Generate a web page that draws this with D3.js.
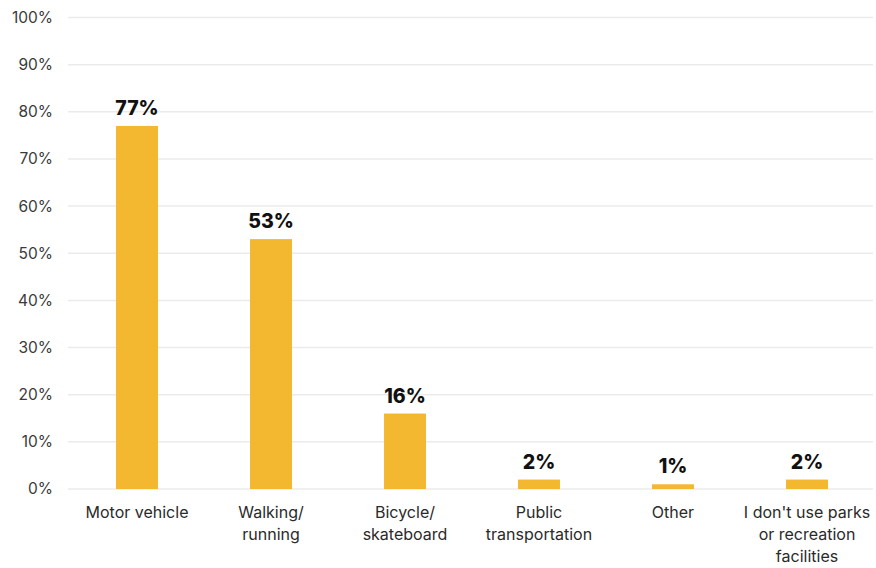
<!DOCTYPE html>
<html>
<head>
<meta charset="utf-8">
<script src="https://cdn.jsdelivr.net/npm/d3@7"></script>
<style>
  html, body { margin: 0; padding: 0; background: #fff; }
  svg { display: block; font-family: Inter, "Open Sans", sans-serif; }
</style>
</head>
<body>
<svg id="chart" width="876" height="568"></svg>
<script>
// Transport modes used to reach parks and recreation facilities
const categories = [
  ["Motor vehicle"],
  ["Walking/", "running"],
  ["Bicycle/", "skateboard"],
  ["Public", "transportation"],
  ["Other"],
  ["I don't use parks", "or recreation", "facilities"]
];
const values = [77, 53, 16, 2, 1, 2];
const yTicks = [0, 10, 20, 30, 40, 50, 60, 70, 80, 90, 100];

const svg = d3.select("#chart");
const plot = { left: 68, right: 873, top: 17.5, bottom: 489 };

const x = d3.scaleBand()
  .domain(d3.range(categories.length))
  .range([70, 874])
  .paddingInner(0.687)
  .paddingOuter(0.3435);

const y = d3.scaleLinear()
  .domain([0, 100])
  .range([plot.bottom, plot.top]);

// Horizontal gridlines
svg.append("g")
  .selectAll("line")
  .data(yTicks)
  .join("line")
  .attr("x1", plot.left)
  .attr("x2", plot.right)
  .attr("y1", d => y(d))
  .attr("y2", d => y(d))
  .attr("stroke", "#ebebeb")
  .attr("stroke-width", 1.5);

// Y axis labels
const yAxis = d3.axisLeft(y)
  .tickValues(yTicks)
  .tickFormat(d => d + "%")
  .tickSize(0)
  .tickPadding(0);
const gy = svg.append("g")
  .attr("transform", "translate(53,0)")
  .call(yAxis);
gy.select(".domain").remove();
gy.selectAll("text")
  .attr("font-family", "Inter, sans-serif")
  .attr("font-size", 15.5)
  .attr("fill", "#3a3a3a");

// Bars
svg.append("g")
  .selectAll("rect")
  .data(values)
  .join("rect")
  .attr("x", (d, i) => x(i))
  .attr("y", d => y(d))
  .attr("width", x.bandwidth())
  .attr("height", d => y(0) - y(d))
  .attr("fill", "#f4b730");

// Value labels
svg.append("g")
  .selectAll("text")
  .data(values)
  .join("text")
  .attr("x", (d, i) => x(i) + x.bandwidth() / 2)
  .attr("y", d => y(d) - 11)
  .attr("text-anchor", "middle")
  .attr("font-family", "Inter, sans-serif")
  .attr("font-weight", 800)
  .attr("font-size", 19.5)
  .attr("fill", "#111")
  .text(d => d + "%");

// Category labels
const cat = svg.append("g")
  .selectAll("text")
  .data(categories)
  .join("text")
  .attr("x", (d, i) => x(i) + x.bandwidth() / 2)
  .attr("y", 518)
  .attr("text-anchor", "middle")
  .attr("font-family", "Inter, sans-serif")
  .attr("font-size", 16)
  .attr("fill", "#2a2a2a");
cat.selectAll("tspan")
  .data(d => d)
  .join("tspan")
  .attr("x", function () { return this.parentNode.getAttribute("x"); })
  .attr("dy", (d, i) => i === 0 ? 0 : 22)
  .text(d => d);
</script>
</body>
</html>
